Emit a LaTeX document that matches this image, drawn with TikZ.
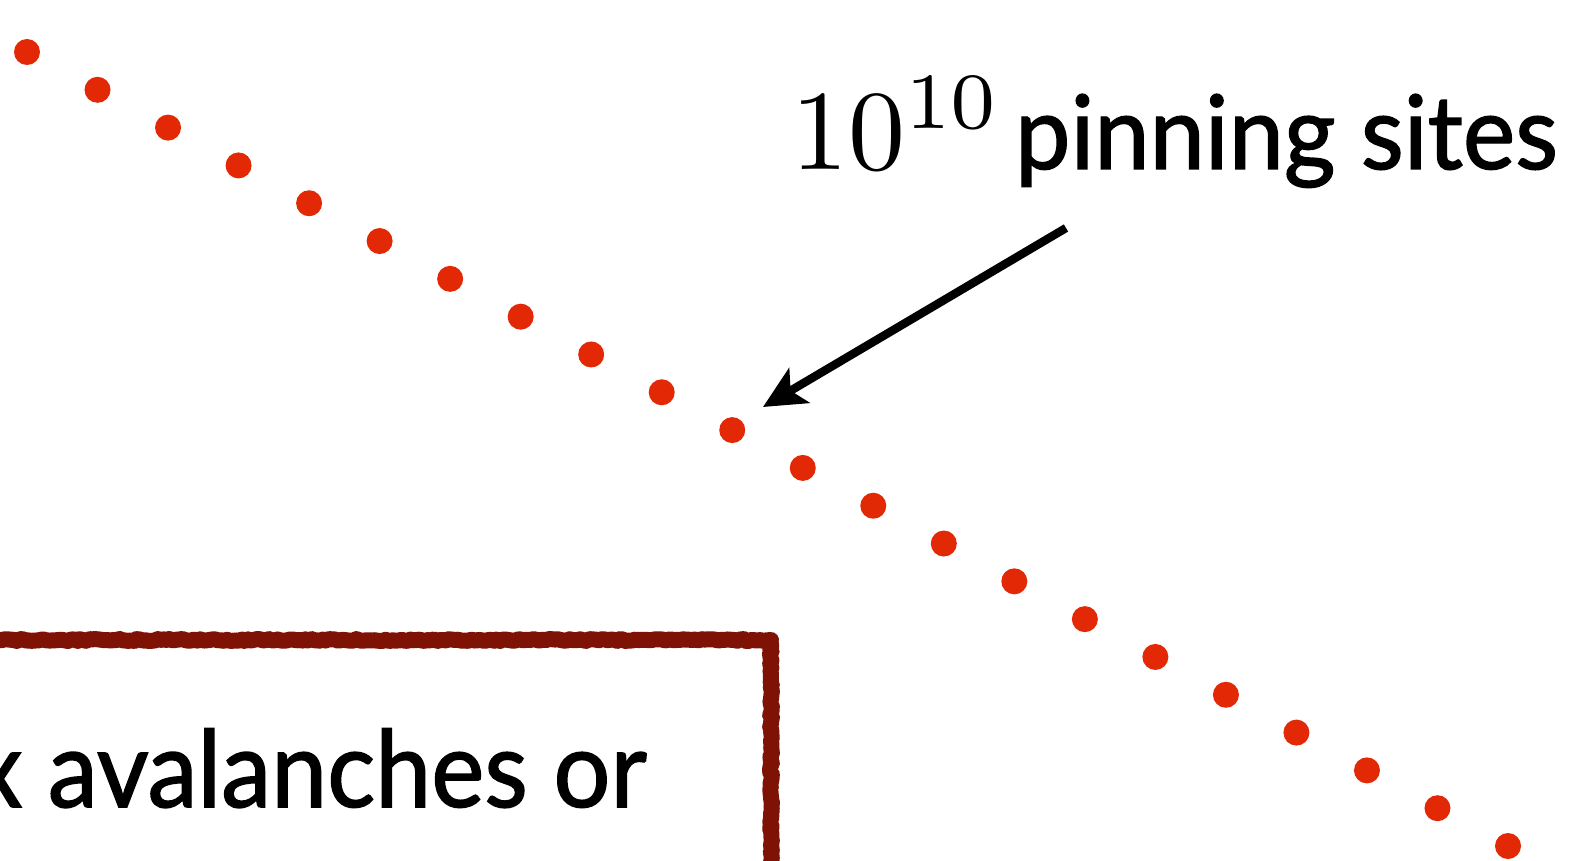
\documentclass[tikz,border=0pt]{standalone}
\usepackage{fontspec}
\newfontfamily\gill{Lato}[FakeBold=1.4]
\usetikzlibrary{arrows.meta,decorations.pathmorphing}
\definecolor{dotred}{RGB}{226,40,5}
\definecolor{boxred}{RGB}{125,18,5}
\newlength\wpin \newlength\wava \newlength\hxx
\begin{document}
\settowidth\wpin{\gill pinning sites}%
\settowidth\wava{\gill avalanches or}%
\settoheight\hxx{\gill x}%
\pgfmathsetmacro\sxp{271.5/\wpin}%
\pgfmathsetmacro\syp{26/\hxx}%
\pgfmathsetmacro\sxa{299.5/\wava}%
\pgfmathsetmacro\sya{27/\hxx}%
\begin{tikzpicture}[x=0.5pt,y=-0.5pt,
  pin/.style={circle,fill=dotred,inner sep=0pt,minimum size=13pt},
  arr/.style={line width=4.2pt,-{Stealth[length=21pt,width=20pt,inset=5pt]}},
  frame/.style={draw=boxred,line width=8pt,line join=round,decorate,
    decoration={random steps,segment length=1.5pt,amplitude=0.5pt}},
  lbl/.style={inner sep=0pt,outer sep=0pt}]
\useasboundingbox (0,0) rectangle (1569,861);
\fill[white] (0,0) rectangle (1569,861);
\begin{scope}
\clip (0,0) rectangle (1569,861);
\foreach \i in {0,...,21}
  \node[pin] (d\i) at ({27+70.524*\i},{52+37.81*\i}) {};
\draw[frame] (-40,640) -- (771,640) -- (771,920);
\node[lbl,anchor=base east] (av) at (647,807)
  {\scalebox{\sxa}[\sya]{\gill x avalanches or}};
\end{scope}
\node[lbl,anchor=base east] (pw) at (1002,170) {\scalebox{5.7}{$10^{10}$}};
\node[lbl,anchor=base east] (ps) at (1558,169)
  {\scalebox{\sxp}[\syp]{\gill pinning sites}};
\coordinate (as) at (1066,228);
\coordinate (ae) at (763,407);
\draw[arr] (as) -- (ae);
\end{tikzpicture}
\end{document}
